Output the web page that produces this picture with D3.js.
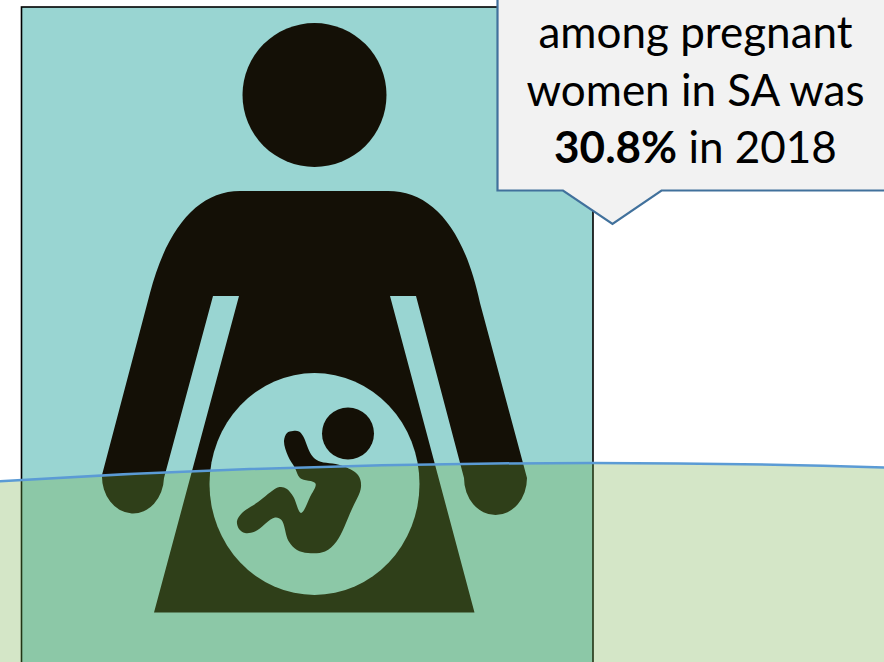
<!DOCTYPE html>
<html>
<head>
<meta charset="utf-8">
<title>Prevalence among pregnant women</title>
<script src="https://cdn.jsdelivr.net/npm/d3@7"></script>
<style>
  html, body { margin: 0; padding: 0; background: #fff; overflow: hidden; }
  svg { display: block; }
  text { font-family: Lato, "Open Sans", sans-serif; fill: #000; }
</style>
</head>
<body>
<div id="chart"></div>
<script>
// the one number in the picture
const prevalence = 30.8;
const year = 2018;
const calloutLines = ["among pregnant", "women in SA was"];
const calloutValue = prevalence.toFixed(1) + "%";
const calloutRest = " in " + year;

const width = 884, height = 662;
const teal = "#99d5d2", ink = "#141006";

const svg = d3.select("#chart").append("svg")
  .attr("width", width)
  .attr("height", height);

// the panel runs a little past the bottom of the picture
const panel = {left: 21.5, right: 593, top: 7, bottom: 666};
const y = d3.scaleLinear().domain([0, 100]).range([panel.bottom, panel.top]);

svg.append("rect")
  .attr("x", panel.left)
  .attr("y", panel.top)
  .attr("width", panel.right - panel.left)
  .attr("height", panel.bottom - panel.top)
  .attr("fill", teal)
  .attr("stroke", "#000")
  .attr("stroke-width", 1.6);

// pictogram
const figure = svg.append("g").attr("class", "figure");

figure.append("circle")
  .attr("cx", 314.5).attr("cy", 95).attr("r", 72)
  .attr("fill", ink);

figure.append("path")
  .attr("fill", ink)
  .attr("d", "M240 191 L388 191 C432 191 464 228 480 303 L527 478 A31.5 37 0 0 1 464 478 " +
    "L416 296 L390 296 L474.5 612.5 L154 612.5 L239 296 L213 296 L164 478 " +
    "A31 37 0 0 1 102 475 L150 293 C167 228 198 191 240 191 Z");

figure.append("ellipse")
  .attr("cx", 314.5).attr("cy", 484).attr("rx", 105).attr("ry", 111)
  .attr("fill", teal);

figure.append("circle")
  .attr("cx", 348).attr("cy", 433.5).attr("r", 26)
  .attr("fill", ink);

const fetus = [
  [293, 431], [287, 433], [284, 441], [288, 456], [295, 468], [300, 478],
  [315.5, 483.5], [310, 497], [301, 513], [293.5, 497], [287, 489], [281, 487],
  [276.5, 488], [258, 502], [242, 513], [237, 521], [239, 529], [245, 533],
  [255, 531.5], [275, 517.5], [281.5, 520], [288.5, 541], [297, 550], [308, 553],
  [325, 551.5], [336.5, 541.5], [351.5, 510], [361, 487], [358, 475], [341.5, 465.5],
  [318.5, 461], [311.5, 455], [303, 436], [299, 431.5]
];

figure.append("path")
  .attr("fill", ink)
  .attr("d", d3.line().curve(d3.curveCatmullRomClosed.alpha(0.5))(fetus));

// level of the fill: a very wide circle whose top sits on the value
const radius = 9670;
const crestX = 592;
const crestY = y(prevalence);
const angleAt = x => Math.asin((x - crestX) / radius);

const level = d3.path();
level.arc(crestX, crestY + radius, radius,
  angleAt(-10) - Math.PI / 2, angleAt(width + 10) - Math.PI / 2);
const arcPath = level.toString();

svg.append("path")
  .attr("d", arcPath + ` L${width + 10} ${height + 10} L-10 ${height + 10} Z`)
  .attr("fill", "#70ad47")
  .attr("fill-opacity", 0.3)
  .attr("stroke", "none");

svg.append("path")
  .attr("d", arcPath)
  .attr("fill", "none")
  .attr("stroke", "#5b9bd5")
  .attr("stroke-width", 2.5);

// callout, cut off by the top and right of the picture
svg.append("path")
  .attr("d", "M497.5 -10 L497.5 190.5 L563 190.5 L612.5 224 L661.5 190.5 L894 190.5 L894 -10 Z")
  .attr("fill", "#f2f2f2")
  .attr("stroke", "#41719c")
  .attr("stroke-width", 2.2);

const labels = svg.append("g")
  .attr("text-anchor", "middle")
  .attr("font-size", 44);

labels.selectAll("text.line")
  .data(calloutLines)
  .join("text")
  .attr("class", "line")
  .attr("x", 695.5)
  .attr("y", (d, i) => 48 + i * 58)
  .text(d => d);

const last = labels.append("text").attr("x", 695.5).attr("y", 163);
last.append("tspan").attr("font-weight", 700).text(calloutValue);
last.append("tspan").text(calloutRest);
</script>
</body>
</html>
